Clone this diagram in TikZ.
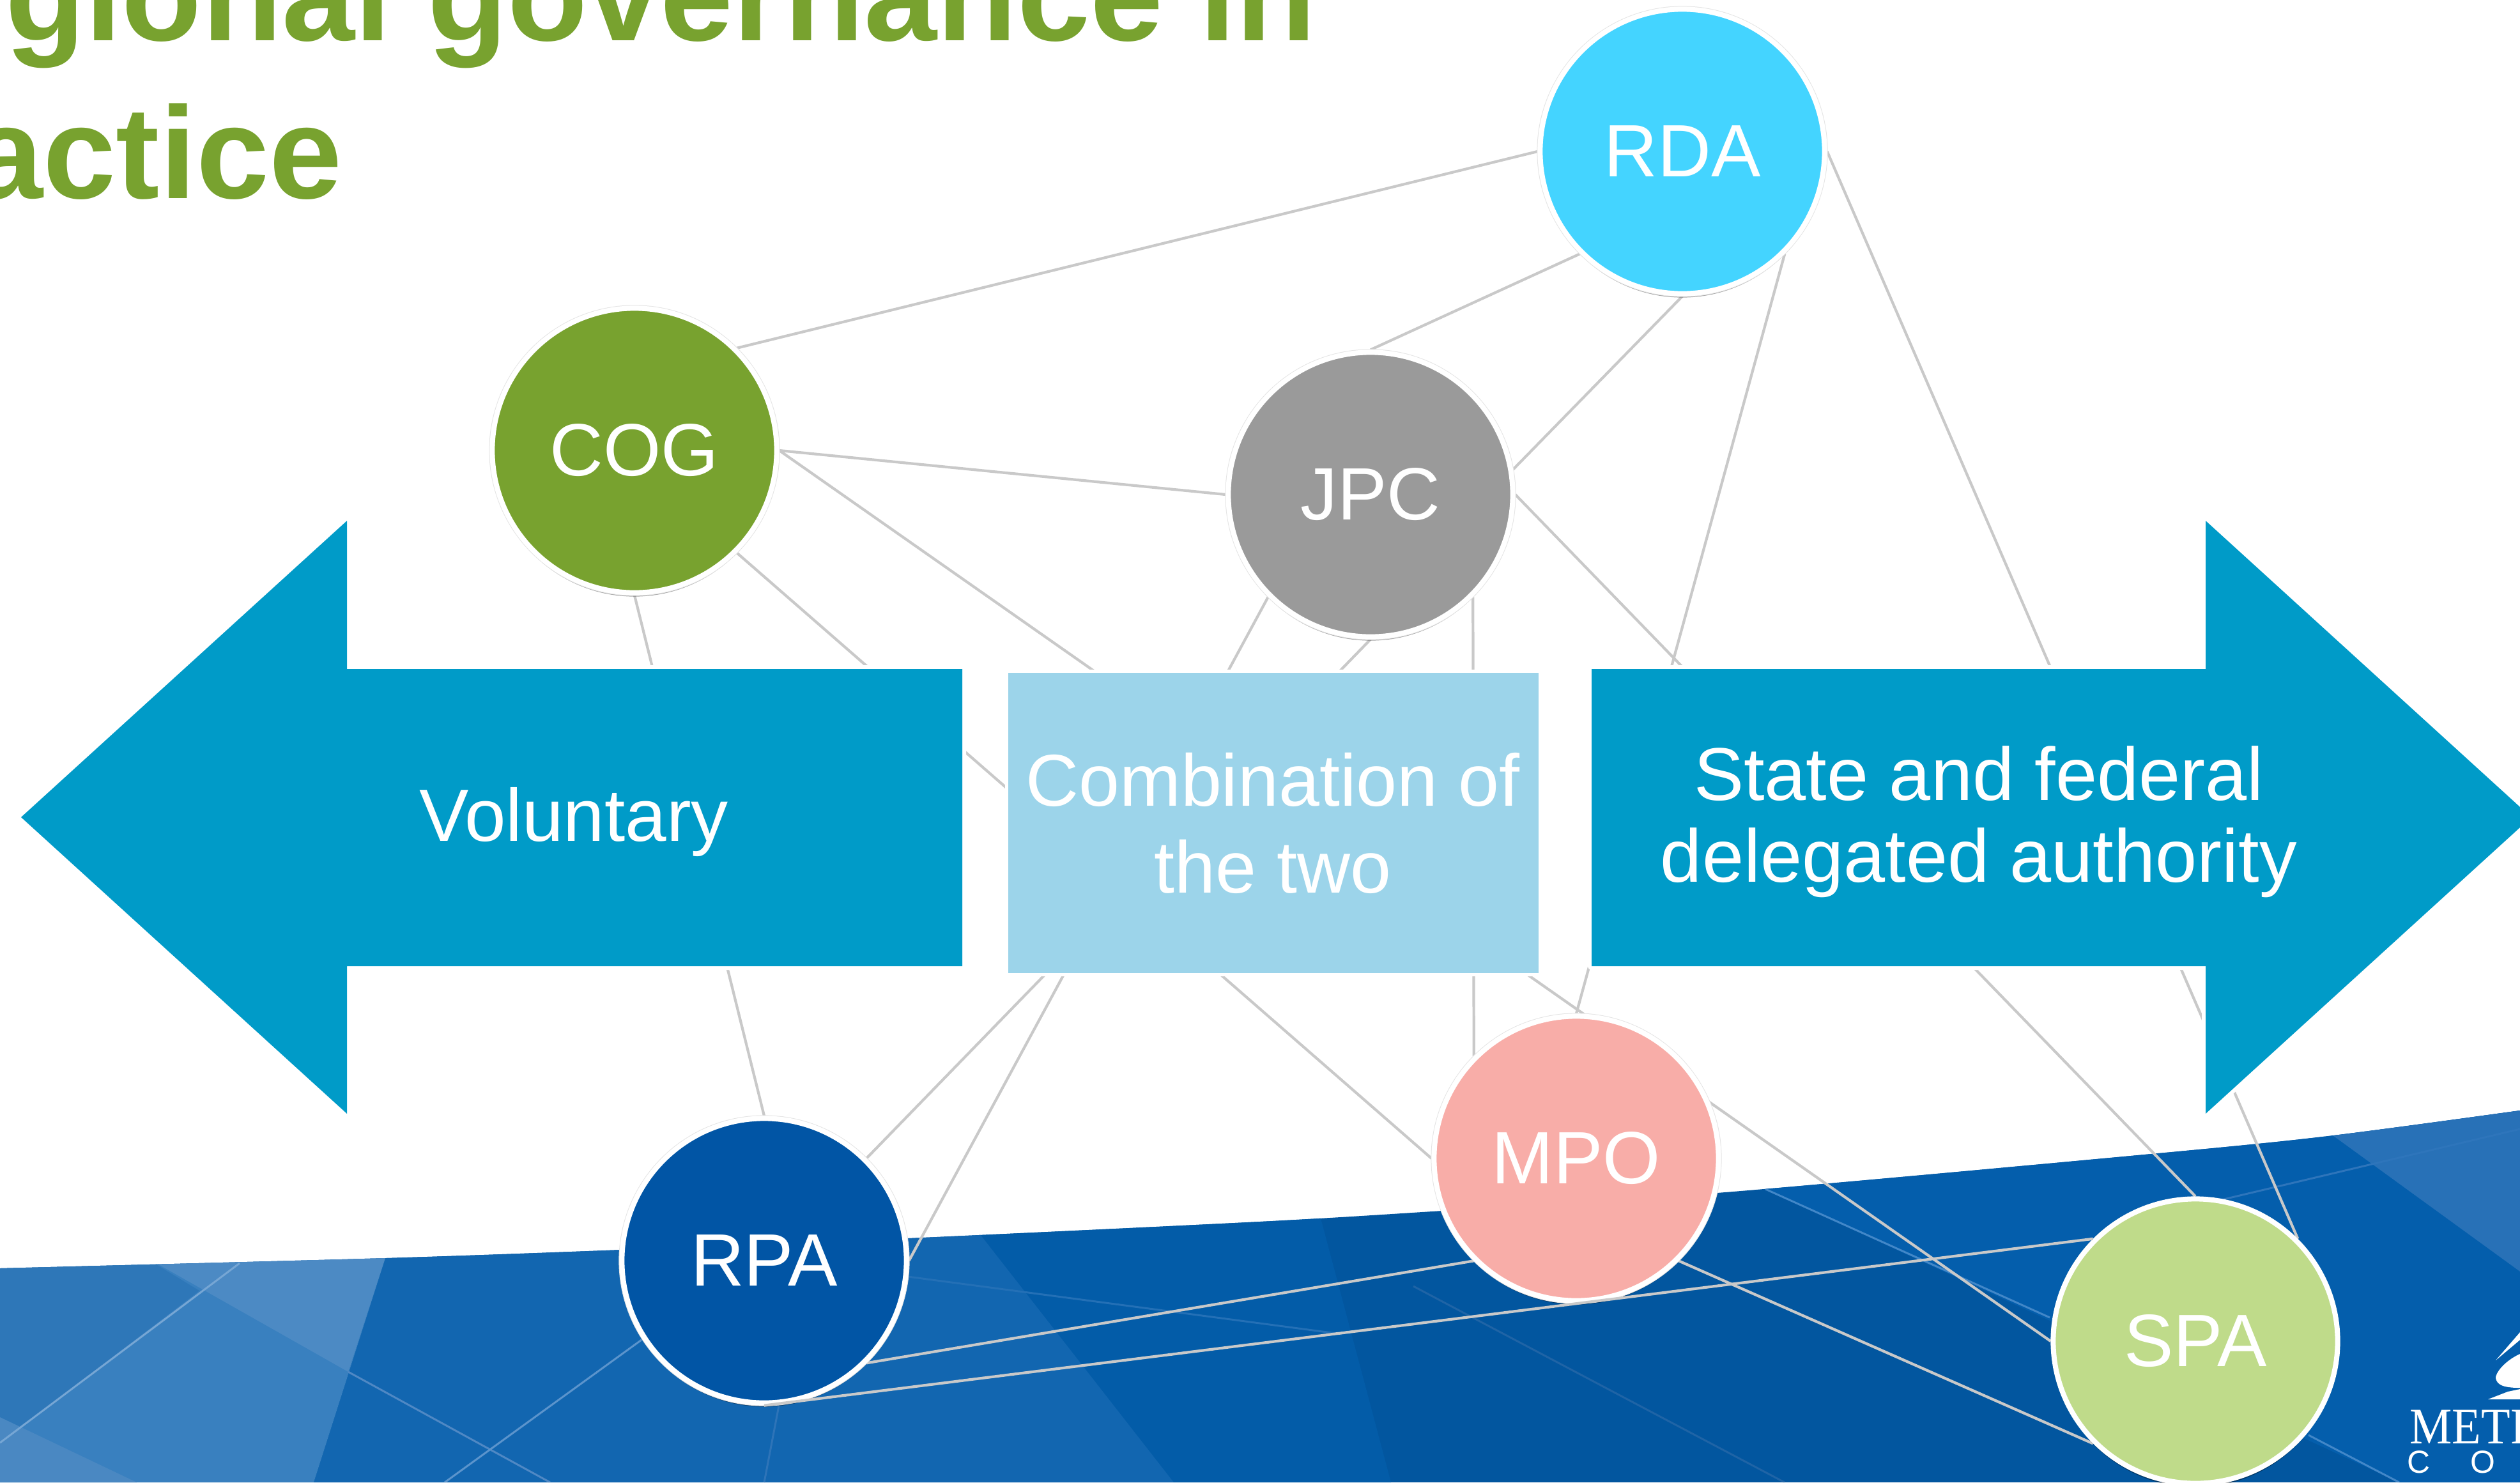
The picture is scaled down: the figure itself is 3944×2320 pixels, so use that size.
\documentclass[tikz,border=0pt]{standalone}
\usepackage{fontspec}
\setmainfont{Liberation Sans}
\newfontfamily\logoserif{Liberation Serif}
\usetikzlibrary{shadows}
\pgfdeclarelayer{bandlayer}
\pgfdeclarelayer{linklayer}
\pgfdeclarelayer{barlayer}
\pgfsetlayers{bandlayer,linklayer,barlayer,main}
\definecolor{titlegreen}{HTML}{78A22F}
\definecolor{barblue}{HTML}{009BC8}
\definecolor{boxblue}{HTML}{9CD4EA}
\definecolor{rdac}{HTML}{44D4FF}
\definecolor{cogc}{HTML}{78A22F}
\definecolor{jpcc}{HTML}{9A9A9A}
\definecolor{rpac}{HTML}{0155A5}
\definecolor{mpoc}{HTML}{F8ADA8}
\definecolor{spac}{HTML}{BFDB8A}
\definecolor{linkgray}{HTML}{C9C9C9}
\definecolor{ringgray}{HTML}{E4E4E4}
\definecolor{fbase}{HTML}{02569F}
\definecolor{fa}{HTML}{045EAC}
\definecolor{fb}{HTML}{035CA8}
\definecolor{fc}{HTML}{1266B0}
\definecolor{fd}{HTML}{3980BF}
\definecolor{fe}{HTML}{2E77B8}
\definecolor{ff}{HTML}{4C8AC4}
\definecolor{fg}{HTML}{4A88C2}
\definecolor{fh}{HTML}{2871B7}
\definecolor{ra}{HTML}{76A6D4}
\definecolor{rb}{HTML}{4F88C4}
\definecolor{rc}{HTML}{5B94CC}
\definecolor{rd}{HTML}{2E74B8}
\definecolor{re}{HTML}{2470B6}
\definecolor{rf}{HTML}{1F64A6}
\definecolor{rg}{HTML}{4287C8}
\definecolor{rh}{HTML}{2E75BB}
\tikzset{
  agency/.style={circle,minimum size=4.45cm,inner sep=0pt,line width=0.08cm,draw=white,
    fill=#1,text=white,font=\fontsize{33pt}{36pt}\selectfont,
    drop shadow={shadow xshift=0cm,shadow yshift=-0.06cm,opacity=0.35,fill=black}},
  ringed/.style={preaction={draw=ringgray,line width=0.1cm}},
  link/.style={draw=linkgray,line width=1.2pt},
  halo/.style={preaction={draw=white,line width=#1,line join=round}},
  bar/.style={fill=barblue,halo=0.12cm},
  barlabel/.style={text=white,inner sep=0pt,align=center},
  ray/.style={line width=0.03cm,draw=#1},
  titletext/.style={text=titlegreen,inner sep=0pt,font=\fontsize{58.3pt}{60pt}\selectfont\bfseries}
}
\begin{document}
\begin{tikzpicture}[x=0.01cm,y=-0.01cm]
\useasboundingbox (0,0) rectangle (3944,2320);

% background band
\begin{pgfonlayer}{bandlayer}
\begin{scope}
\clip plot[smooth] coordinates {(0,1985) (604,1969) (1000,1955) (1421,1938) (1972,1912) (2257,1895) (2700,1866) (3367,1806) (3644,1778) (3944,1738)} -- (3944,2320) -- (0,2320) -- cycle;
\fill[fbase] (0,1700) rectangle (3944,2320);
\fill[fa] (2763,1861) -- (3755,2320) -- (3944,2320) -- (3944,1700) -- (2763,1700) -- cycle;
\fill[fb] (1353,1700) -- (2012,1700) -- (2177,2320) -- (1837,2320) -- cycle;
\fill[fc] (689,1700) -- (1353,1700) -- (1837,2320) -- (491,2320) -- cycle;
\fill[fd] (0,1700) -- (689,1700) -- (491,2320) -- (0,2320) -- cycle;
\fill[fe] (0,1900) -- (115,1900) -- (312,2020) -- (0,2258) -- cycle;
\fill[ff] (197,1950) -- (609,1950) -- (545,2147) -- cycle;
\fill[fg] (0,2218) -- (214,2320) -- (0,2320) -- cycle;
\fill[fh] (3651,1777) -- (3944,1990) -- (3944,1700) -- (3651,1700) -- cycle;
\draw[ray=ra] (375,1977) -- (0,2258);
\draw[ray=rb] (545,2147) -- (861,2320);
\draw[ray=rc] (1004,2097) -- (696,2320);
\draw[ray=rd] (1219,2200) -- (1196,2320);
\draw[ray=re] (1421,1998) -- (2100,2088);
\draw[ray=rf] (2212,2013) -- (2793,2320);
\draw[ray=rg] (2763,1861) -- (3208,2062);
\draw[ray=rg] (3613,2246) -- (3755,2320);
\draw[ray=rh] (3303,1919) -- (3944,1767);
\end{scope}
% logo
\fill[white] (3906,2129) -- (3944,2085) -- (3944,2097) -- cycle;
\fill[white] (3906,2155) .. controls (3910,2140) and (3930,2125) .. (3944,2119) -- (3944,2172) .. controls (3925,2172) and (3906,2170) .. (3906,2155) -- cycle;
\fill[white] (3894,2190) -- (3925,2178) -- (3944,2174) -- (3944,2190) -- cycle;
\end{pgfonlayer}

% title
\node[titletext,anchor=base east] (title1) at (2060,63) {gional governance in};
\node[titletext,anchor=base east] (title2) at (536,310) {actice};

% agencies
\node[agency=rdac,ringed] (rda) at (2633,237) {RDA};
\node[agency=cogc,ringed] (cog) at (993,705) {COG};
\node[agency=jpcc,ringed] (jpc) at (2145,774) {JPC};
\node[agency=rpac,ringed] (rpa) at (1196,1973) {RPA};
\node[agency=mpoc,ringed] (mpo) at (2467,1813) {MPO};
\node[agency=spac] (spa) at (3436,2099) {SPA};

% connectors below the bars
\begin{pgfonlayer}{linklayer}
\draw[link] (cog.45) -- (rda.180);
\draw[link] (rda.225) -- (jpc.90);
\draw[link] (rda.270) -- (jpc.10);
\draw[link] (rda.315) -- (mpo.90);
\draw[link] (rda.0) -- (spa.45);
\draw[link] (jpc.0) -- (spa.90);
\draw[link] (cog.0) -- (jpc.180);
\draw[link] (cog.0) -- (spa.180);
\draw[link] (cog.315) -- (mpo.180);
\draw[link] (cog.270) -- (rpa.90);
\draw[link] (jpc.225) -- (rpa.0);
\draw[link] (jpc.270) -- (rpa.45);
\draw[link] (jpc.315) -- (mpo.135);
\draw[link] (rpa.315) -- (mpo.225);
\draw[link] (mpo.315) -- (spa.225);
\end{pgfonlayer}

% bars
\begin{pgfonlayer}{barlayer}
\path[bar] (33,1279) -- (543,815) -- (543,1047) -- (1506,1047) -- (1506,1512) -- (543,1512) -- (543,1743) -- cycle;
\path[bar] (3944,1263) -- (3452,815) -- (3452,1047) -- (2491,1047) -- (2491,1512) -- (3452,1512) -- (3452,1743) -- (3944,1295) -- cycle;
\path[fill=boxblue,halo=0.1cm] (1578,1053) rectangle (2408,1523);
\end{pgfonlayer}

\node[barlabel,font=\fontsize{33pt}{36pt}\selectfont] (voluntary) at (898,1286) {Voluntary};
\node[barlabel,font=\fontsize{32.7pt}{38.7pt}\selectfont] (combo) at (1992,1288) {Combination of\\the two};
\node[barlabel,font=\fontsize{33.3pt}{36.4pt}\selectfont] (state) at (3097,1286) {State and federal\\delegated authority};

% connector that runs over the rings
\draw[link] (rpa.270) -- (spa.135);

% logo text
\node[inner sep=0pt,anchor=base west,text=white,xscale=0.93,font=\logoserif\fontsize{22.8pt}{24pt}\selectfont] (logo1) at (3771,2259) {METR};
\node[inner sep=0pt,anchor=base west,text=white,font=\fontsize{14.2pt}{16pt}\selectfont] (logo2) at (3767,2305) {C\hspace{0.63cm}O};
\end{tikzpicture}
\end{document}
